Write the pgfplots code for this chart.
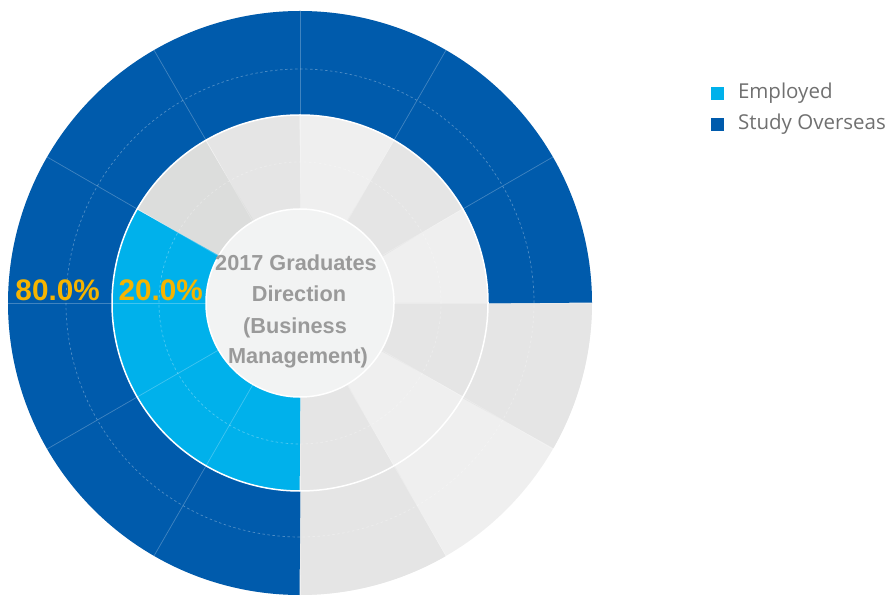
\documentclass[border=0pt]{standalone}
\usepackage{pgfplots}
\pgfplotsset{compat=1.18}
\usepackage{fontspec}
\setmainfont{Liberation Sans}
\newfontfamily\legfont{Open Sans}
\definecolor{cDark}{HTML}{005BAC}
\definecolor{cLight}{HTML}{00B1EB}
\definecolor{gLight}{HTML}{EFEFEF}
\definecolor{gDark}{HTML}{E5E5E5}
\definecolor{gDarker}{HTML}{DCDDDC}
\definecolor{gCenter}{HTML}{F2F3F3}
\definecolor{cLabel}{HTML}{F5B400}
\definecolor{cText}{HTML}{9A9A9A}
\definecolor{cLeg}{HTML}{707070}
% sector: start angle, end angle, inner radius, outer radius, colour
\newcommand\sector[5]{%
  \addplot[forget plot, data cs=polar, domain=#1:#2, samples=271,
    draw=#5, line width={(#4-#3)*1pt}, line cap=butt] {(#3+#4)/2};%
}
\begin{document}
\begin{tikzpicture}
\begin{axis}[
  x=1pt, y=1pt,
  xmin=-300, xmax=594, ymin=-292, ymax=303,
  hide axis, clip=true,
  legend style={at={(axis cs:411,215.7)}, anchor=north west, draw=none, fill=none,
    inner sep=0pt, outer sep=0pt, row sep=18pt, column sep=14pt,
    font=\legfont\fontsize{20.5}{24}\selectfont, text=cLeg,
    nodes={inner sep=0pt},
    /tikz/every even column/.append style={text height=11.2pt, text depth=0pt}},
  legend cell align=left,
  legend image code/.code={\path[#1] (0pt,-6.5pt) rectangle (13pt,6.5pt);},
]
% background disc
\addplot[forget plot, data cs=polar, domain=0:360, samples=361, fill=gLight, draw=none] {292};
% darker background sectors, inner ring
\sector{30}{60}{94}{188}{gDark}
\sector{90}{120}{94}{188}{gDark}
\sector{120}{150}{94}{188}{gDarker}
\sector{270}{300}{94}{188}{gDark}
\sector{330}{360}{94}{188}{gDark}
% darker background sectors, outer ring
\sector{270}{300}{188}{292}{gDark}
\sector{330}{360}{188}{292}{gDark}
% bars
\sector{0}{270}{188}{292}{cDark}   % Study Overseas 80.0%
\sector{150}{270}{94}{188}{cLight} % Employed 20.0%
% radial split lines
\pgfplotsinvokeforeach{0,30,...,330}{
  \addplot[forget plot, data cs=polar, draw=white, draw opacity=0.25, line width=0.7pt]
    coordinates {(#1,94) (#1,292)};
}
% dashed circles
\addplot[forget plot, data cs=polar, domain=0:360, samples=361, draw=white, draw opacity=0.3,
  line width=0.7pt, dash pattern=on 2.5pt off 2.5pt] {141};
\addplot[forget plot, data cs=polar, domain=0:360, samples=361, draw=white, draw opacity=0.3,
  line width=0.7pt, dash pattern=on 2.5pt off 2.5pt] {234};
% white ring border
\addplot[forget plot, data cs=polar, domain=0:360, samples=361, draw=white, line width=1.5pt] {188};
% centre disc
\addplot[forget plot, data cs=polar, domain=0:360, samples=361, fill=gCenter, draw=white, line width=1.5pt] {94};
% legend
\addlegendimage{fill=cLight, draw=none}
\addlegendentry{Employed}
\addlegendimage{fill=cDark, draw=none}
\addlegendentry{Study Overseas}
% labels
\node[anchor=base, text=cLabel, font=\bfseries\fontsize{29.7}{34}\selectfont] at (axis cs:-242.4,2) {80.0\%};
\node[anchor=base, text=cLabel, font=\bfseries\fontsize{29.7}{34}\selectfont] at (axis cs:-139.2,2) {20.0\%};
% centre title
\begin{scope}[every node/.style={anchor=base, text=cText, font=\bfseries\fontsize{21.7}{25}\selectfont}]
\node at (axis cs:-4,32) {2017 Graduates};
\node at (axis cs:-1,1) {Direction};
\node at (axis cs:-5,-30) {(Business};
\node at (axis cs:-2,-61) {Management)};
\end{scope}
\end{axis}
\pgfresetboundingbox
\path[use as bounding box] (current axis.south west) rectangle (current axis.north east);
\end{tikzpicture}
\end{document}
